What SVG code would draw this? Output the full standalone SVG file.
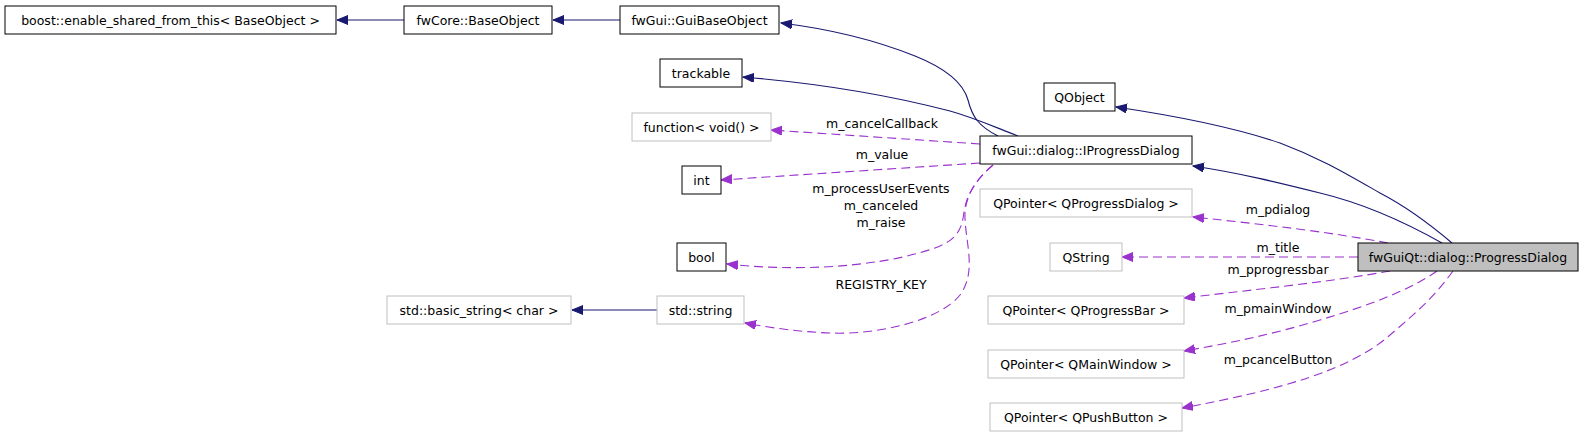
<svg xmlns="http://www.w3.org/2000/svg" width="1584" height="437" viewBox="0 0 1584 437">
<style>
  text { font-family: "DejaVu Sans", "Liberation Sans", sans-serif; font-size: 12.5px; fill: #000; text-anchor: middle; }
  .box { fill: #fff; stroke: #000; stroke-width: 1; }
  .gbox { fill: #fff; stroke: #bfbfbf; stroke-width: 1; }
  .self { fill: #bfbfbf; stroke: #000; stroke-width: 1; }
  .inh { fill: none; stroke: #191970; stroke-width: 1.1; marker-end: url(#ah); }
  .use { fill: none; stroke: #9a32cd; stroke-width: 1.1; stroke-dasharray: 9,5; marker-end: url(#au); }
</style>
<defs>
  <marker id="ah" markerUnits="userSpaceOnUse" markerWidth="13" markerHeight="10" refX="11" refY="4.5" orient="auto">
    <path d="M0,0 L11,4.5 L0,9 z" fill="#191970" stroke="#191970" stroke-width="1"/>
  </marker>
  <marker id="au" markerUnits="userSpaceOnUse" markerWidth="13" markerHeight="10" refX="11" refY="4.5" orient="auto">
    <path d="M0,0 L11,4.5 L0,9 z" fill="#9a32cd" stroke="#9a32cd" stroke-width="1"/>
  </marker>
</defs>
<rect width="1584" height="437" fill="#fff"/>
<g id="connectors">
  <path class="inh" d="M404,20 L337,20"/>
  <path class="inh" d="M620,20 L553,20"/>
  <path class="inh" d="M657,310 L572,310"/>
  <path class="inh" d="M998,136 C978,126 972,116 968,100 C963,82 945,68 915,56 C875,40 830,29 781,23"/>
  <path class="inh" d="M1018,136 C992,126 975,118 950,111 C885,94 815,83 743,77"/>
  <path class="inh" d="M1452,243 C1425,220 1405,206 1380,193 C1345,173 1320,158 1280,143 C1230,126 1170,115 1116,107"/>
  <path class="inh" d="M1442,243 C1410,225 1370,205 1320,193 C1280,183 1240,173 1193,166"/>
  <path class="use" d="M980,144 L771,130"/>
  <path class="use" d="M980,163 L721,180"/>
  <path class="use" d="M993,165 C978,178 967,192 964,212 C962,228 958,238 940,246 C900,262 820,274 727,264"/>
  <path class="use" d="M993,165 C978,178 967,192 965,212 C964,240 978,270 960,295 C940,320 880,335 830,333 C800,332 772,328 745,323"/>
  <path class="use" d="M1388,243 C1330,232 1260,224 1193,217"/>
  <path class="use" d="M1358,257 L1122,257"/>
  <path class="use" d="M1390,271 C1330,282 1250,290 1184,298"/>
  <path class="use" d="M1437,271 C1410,290 1370,305 1320,320 C1270,335 1230,343 1184,351"/>
  <path class="use" d="M1453,271 C1432,300 1412,316 1390,335 C1350,370 1280,390 1182,408"/>
  <text x="882" y="128">m_cancelCallback</text>
  <text x="882" y="159">m_value</text>
  <text x="881" y="193">m_processUserEvents</text>
  <text x="881" y="210">m_canceled</text>
  <text x="881" y="227">m_raise</text>
  <text x="881" y="289">REGISTRY_KEY</text>
  <text x="1278" y="214">m_pdialog</text>
  <text x="1278" y="252">m_title</text>
  <text x="1278" y="274">m_pprogressbar</text>
  <text x="1278" y="313">m_pmainWindow</text>
  <text x="1278" y="364">m_pcancelButton</text>
</g>
<g id="n_boost"><rect class="box" x="5" y="6" width="331" height="28"/><text x="170.5" y="24.5">boost::enable_shared_from_this&lt; BaseObject &gt;</text></g>
<g id="n_baseobject"><rect class="box" x="404" y="6" width="148" height="28"/><text x="478" y="24.5">fwCore::BaseObject</text></g>
<g id="n_guibaseobject"><rect class="box" x="620" y="6" width="159" height="28"/><text x="699.5" y="24.5">fwGui::GuiBaseObject</text></g>
<g id="n_trackable"><rect class="box" x="660" y="59" width="82" height="28"/><text x="701" y="77.5">trackable</text></g>
<g id="n_function"><rect class="gbox" x="632" y="113" width="139" height="28"/><text x="701.5" y="131.5">function&lt; void() &gt;</text></g>
<g id="n_int"><rect class="box" x="682" y="166" width="39" height="28"/><text x="701.5" y="184.5">int</text></g>
<g id="n_bool"><rect class="box" x="677" y="243" width="49" height="28"/><text x="701.5" y="261.5">bool</text></g>
<g id="n_basic_string"><rect class="gbox" x="387" y="296" width="184" height="28"/><text x="479" y="314.5">std::basic_string&lt; char &gt;</text></g>
<g id="n_string"><rect class="gbox" x="657" y="296" width="87" height="28"/><text x="700.5" y="314.5">std::string</text></g>
<g id="n_qobject"><rect class="box" x="1044" y="83" width="71" height="28"/><text x="1079.5" y="101.5">QObject</text></g>
<g id="n_iprogressdialog"><rect class="box" x="980" y="136" width="212" height="28"/><text x="1086" y="154.5">fwGui::dialog::IProgressDialog</text></g>
<g id="n_qpd"><rect class="gbox" x="980" y="189" width="212" height="28"/><text x="1086" y="207.5">QPointer&lt; QProgressDialog &gt;</text></g>
<g id="n_qstring"><rect class="gbox" x="1050" y="243" width="72" height="28"/><text x="1086" y="261.5">QString</text></g>
<g id="n_progressdialog"><rect class="self" x="1358" y="243" width="220" height="28"/><text x="1468" y="261.5">fwGuiQt::dialog::ProgressDialog</text></g>
<g id="n_qpb"><rect class="gbox" x="988" y="296" width="196" height="28"/><text x="1086" y="314.5">QPointer&lt; QProgressBar &gt;</text></g>
<g id="n_qmw"><rect class="gbox" x="988" y="350" width="196" height="28"/><text x="1086" y="368.5">QPointer&lt; QMainWindow &gt;</text></g>
<g id="n_qpush"><rect class="gbox" x="990" y="403" width="192" height="28"/><text x="1086" y="421.5">QPointer&lt; QPushButton &gt;</text></g>
</svg>
